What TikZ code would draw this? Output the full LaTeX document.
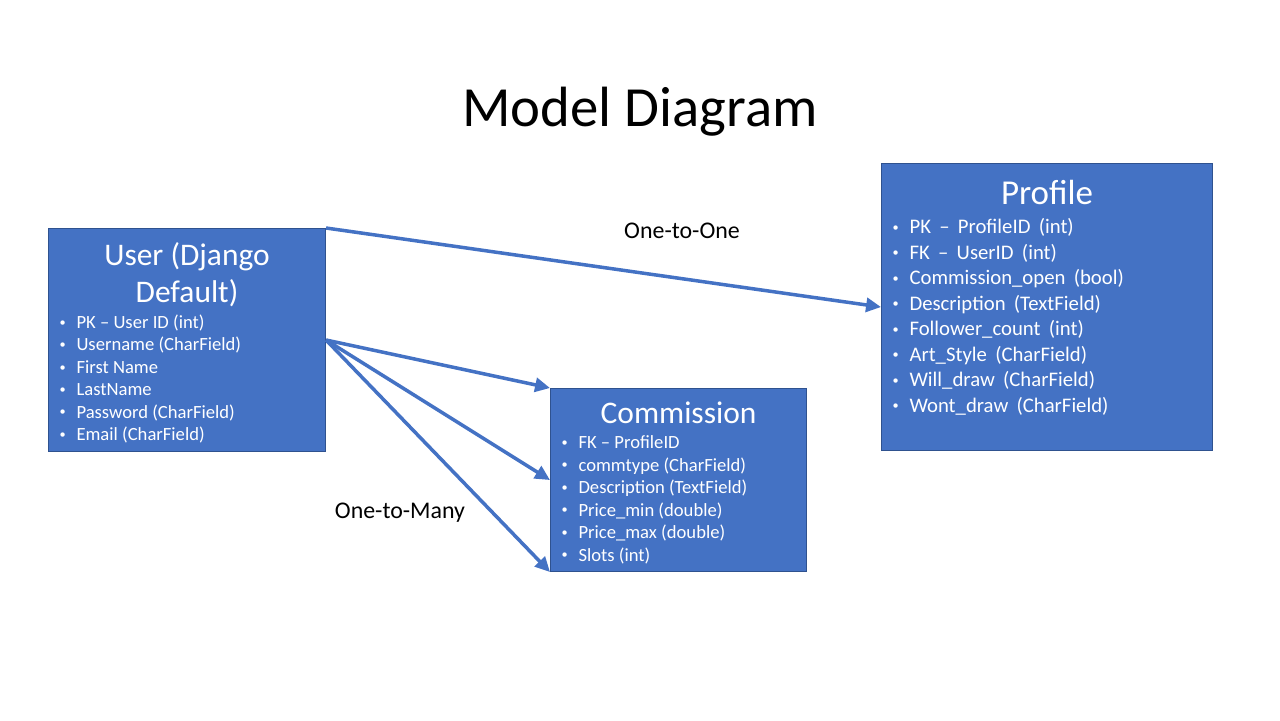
\documentclass[tikz,border=0pt]{standalone}
\usepackage{fontspec}
\setmainfont{Carlito}
\usepackage{tikz}
\usetikzlibrary{arrows.meta}
\definecolor{entityfill}{HTML}{4472C4}
\definecolor{entityborder}{HTML}{2F528F}
\newdimen\pxu \pxu=0.02cm
\def\fld#1{\hspace*{11\pxu}\makebox[17\pxu][l]{\raisebox{0.25ex}{\fontsize{7}{7}\selectfont\textbullet}}#1\par}

\begin{document}
\begin{tikzpicture}[x=0.02cm, y=-0.02cm,
	entity/.style={draw=entityborder, fill=entityfill, line width=0.6pt, inner sep=0pt, anchor=north west, text=white},
	link/.style={draw=entityfill, line width=2pt, -{Triangle[length=8.5pt,width=8pt]}},
	relation/.style={font=\fontsize{13.6}{16}\selectfont}]
			%%%%% START %%%%%
			
			\useasboundingbox (0, 0) rectangle (1280, 720);
			
			\node[anchor=base, font=\fontsize{32.3}{38}\selectfont] (title) at (640, 126) {Model Diagram};
			
			\node[entity] (user) at (48, 228) {\parbox[t][223\pxu][t]{277\pxu}{\lineskiplimit=-10cm
					\centering\fontsize{17.9}{37\pxu}\selectfont\rule{0pt}{37\pxu}User (Django\\Default)\par
					\raggedright\fontsize{10.6}{22.4\pxu}\selectfont\vspace{3.6\pxu}
					\fld{PK -- User ID (int)}
					\fld{Username (CharField)}
					\fld{First Name}
					\fld{LastName}
					\fld{Password (CharField)}
					\fld{Email (CharField)}}};
			
			\node[entity] (comm) at (550, 388) {\parbox[t][183\pxu][t]{256\pxu}{\lineskiplimit=-10cm
					\centering\fontsize{17.9}{37\pxu}\selectfont\rule{0pt}{35\pxu}Commission\par
					\raggedright\fontsize{10.6}{22.5\pxu}\selectfont\vspace{2.5\pxu}
					\fld{FK -- ProfileID}
					\fld{commtype (CharField)}
					\fld{Description (TextField)}
					\fld{Price\_min (double)}
					\fld{Price\_max (double)}
					\fld{Slots (int)}}};
			
			\node[entity] (profile) at (881, 163) {\parbox[t][287\pxu][t]{331\pxu}{\lineskiplimit=-10cm
					\centering\fontsize{19.9}{37\pxu}\selectfont\rule{0pt}{41\pxu}Profile\par
					\raggedright\fontsize{11.8}{25.5\pxu}\selectfont\spaceskip=0.4em\vspace{3.5\pxu}
					\fld{PK -- ProfileID (int)}
					\fld{FK -- UserID (int)}
					\fld{Commission\_open (bool)}
					\fld{Description (TextField)}
					\fld{Follower\_count (int)}
					\fld{Art\_Style (CharField)}
					\fld{Will\_draw (CharField)}
					\fld{Wont\_draw (CharField)}}};
			
			\draw[link] (user.north east) -- (profile.west);
			\draw[link] (user.east) -- (comm.north west);
			\draw[link] (user.east) -- (comm.west);
			\draw[link] (user.east) -- (comm.south west);
			
			\node[relation] (onetoone) at (682, 231) {One-to-One};
			\node[relation] (onetomany) at (400, 513) {One-to-Many};
			
			%%%%% END %%%%%
\end{tikzpicture}
\end{document}
